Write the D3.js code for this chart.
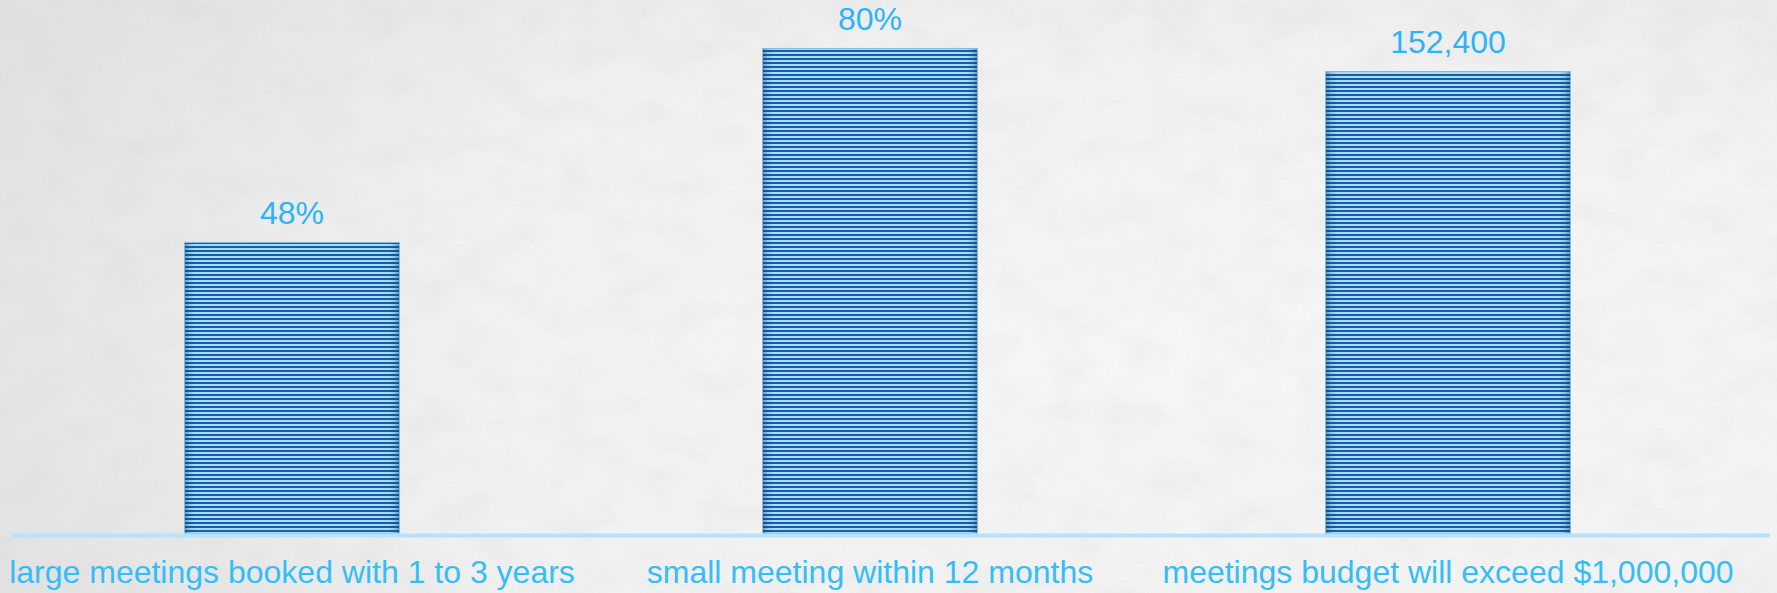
<!DOCTYPE html>
<html>
<head>
<meta charset="utf-8">
<script src="https://cdn.jsdelivr.net/npm/d3@7"></script>
<style>
  html, body { margin: 0; padding: 0; background: #f3f3f3; }
  svg { display: block; }
</style>
</head>
<body>
<svg id="chart" width="1777" height="593"></svg>
<script>
// data
const categories = [
  "large meetings booked with 1 to 3 years",
  "small meeting within 12 months",
  "meetings budget will exceed $1,000,000"
];
const values = [48, 80, 152400];
const valueLabels = ["48%", "80%", "152,400"];
// which y axis each bar uses (the last one is on a secondary axis)
const axisOf = ["primary", "primary", "secondary"];
const primaryDomain = [0, 100];
const secondaryDomain = [0, 200000];

const W = 1777, H = 593;
const baseY = 533.5;
const topY = baseY - 606.3;

const svg = d3.select("#chart");
const defs = svg.append("defs");

// textured paper background
const bgGrad = defs.append("radialGradient").attr("id", "bgGrad")
  .attr("cx", "60%").attr("cy", "60%").attr("r", "80%");
bgGrad.append("stop").attr("offset", "0%").attr("stop-color", "#f8f8f8");
bgGrad.append("stop").attr("offset", "60%").attr("stop-color", "#f4f4f4");
bgGrad.append("stop").attr("offset", "100%").attr("stop-color", "#e9e9e9");

const noise = defs.append("filter").attr("id", "noise")
  .attr("x", 0).attr("y", 0).attr("width", "100%").attr("height", "100%");
noise.append("feTurbulence").attr("type", "fractalNoise")
  .attr("baseFrequency", "0.02 0.03").attr("numOctaves", 4).attr("seed", 7);
noise.append("feColorMatrix").attr("type", "matrix")
  .attr("values", "0 0 0 0 0.6  0 0 0 0 0.6  0 0 0 0 0.6  0 0 0 -1.6 0.95");

const grain = defs.append("filter").attr("id", "grain")
  .attr("x", 0).attr("y", 0).attr("width", "100%").attr("height", "100%");
grain.append("feTurbulence").attr("type", "fractalNoise")
  .attr("baseFrequency", "0.7").attr("numOctaves", 2).attr("seed", 3);
grain.append("feColorMatrix").attr("type", "matrix")
  .attr("values", "0 0 0 0 0.6  0 0 0 0 0.6  0 0 0 0 0.6  0 0 0 -1.2 0.75");

// darker wash on the left, as in the reference paper texture
const leftWash = defs.append("linearGradient").attr("id", "leftWash")
  .attr("x1", "0%").attr("x2", "100%");
leftWash.append("stop").attr("offset", "0%").attr("stop-color", "#d8d8d8").attr("stop-opacity", 0.45);
leftWash.append("stop").attr("offset", "30%").attr("stop-color", "#d8d8d8").attr("stop-opacity", 0.1);
leftWash.append("stop").attr("offset", "100%").attr("stop-color", "#d8d8d8").attr("stop-opacity", 0);

svg.append("rect").attr("width", W).attr("height", H).attr("fill", "url(#bgGrad)");
svg.append("rect").attr("width", W).attr("height", H).attr("fill", "url(#leftWash)");
svg.append("rect").attr("width", W).attr("height", H)
  .attr("filter", "url(#noise)").attr("opacity", 0.2);
svg.append("rect").attr("width", W).attr("height", H)
  .attr("filter", "url(#grain)").attr("opacity", 0.14);

// striped bar fill
const stripes = defs.append("pattern").attr("id", "stripes")
  .attr("patternUnits", "userSpaceOnUse").attr("width", 8).attr("height", 4);
stripes.append("rect").attr("width", 8).attr("height", 4).attr("fill", "#b0d8f4");
stripes.append("rect").attr("y", 2).attr("width", 8).attr("height", 2).attr("fill", "#0d62a9");

const edge = defs.append("linearGradient").attr("id", "edge")
  .attr("x1", "0%").attr("x2", "100%");
[[0, 0.45], [0.025, 0.12], [0.05, 0], [0.95, 0], [0.975, 0.12], [1, 0.45]].forEach(([o, a]) => {
  edge.append("stop").attr("offset", o).attr("stop-color", "#083f70").attr("stop-opacity", a);
});

// scales
const x = d3.scalePoint().domain(categories).range([292, 1448]);
const y = {
  primary: d3.scaleLinear().domain(primaryDomain).range([baseY, topY]),
  secondary: d3.scaleLinear().domain(secondaryDomain).range([baseY, topY])
};
const barWidth = { primary: 215, secondary: 245 };

const rows = categories.map((c, i) => ({
  cat: c, value: values[i], label: valueLabels[i], axis: axisOf[i]
}));

const bars = svg.append("g").selectAll("g").data(rows).join("g");

bars.append("rect")
  .attr("x", d => x(d.cat) - barWidth[d.axis] / 2)
  .attr("y", d => y[d.axis](d.value))
  .attr("width", d => barWidth[d.axis])
  .attr("height", d => baseY - y[d.axis](d.value))
  .attr("fill", "url(#stripes)");

bars.append("rect")
  .attr("x", d => x(d.cat) - barWidth[d.axis] / 2)
  .attr("y", d => y[d.axis](d.value))
  .attr("width", d => barWidth[d.axis])
  .attr("height", d => baseY - y[d.axis](d.value))
  .attr("fill", "url(#edge)")
  .attr("stroke", "#86b9e0")
  .attr("stroke-width", 1);

// value labels
bars.append("text")
  .attr("x", d => x(d.cat))
  .attr("y", d => y[d.axis](d.value) - 18)
  .attr("text-anchor", "middle")
  .attr("font-family", "'Liberation Sans', Arial, sans-serif")
  .attr("font-size", 32)
  .attr("fill", "#2cb4f6")
  .text(d => d.label);

// baseline
svg.append("line")
  .attr("x1", 12).attr("x2", 1770)
  .attr("y1", baseY + 2).attr("y2", baseY + 2)
  .attr("stroke", "#b4e3fc").attr("stroke-width", 4);

// category labels
svg.append("g").selectAll("text").data(categories).join("text")
  .attr("x", d => x(d))
  .attr("y", 583)
  .attr("text-anchor", "middle")
  .attr("font-family", "'Liberation Sans', Arial, sans-serif")
  .attr("font-size", 32)
  .attr("fill", "#35bdf8")
  .text(d => d);
</script>
</body>
</html>
